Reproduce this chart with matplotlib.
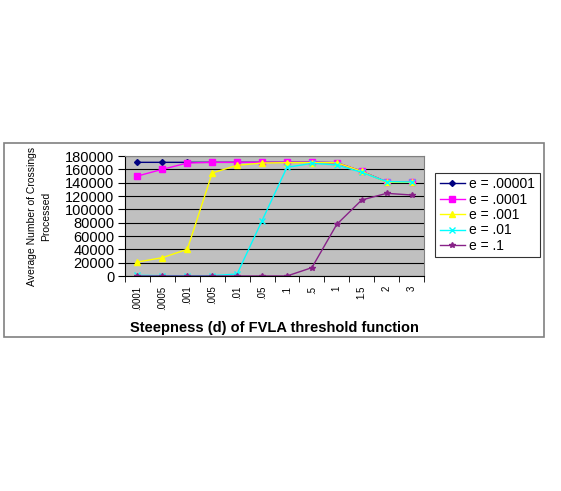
import matplotlib.pyplot as plt
from matplotlib.patches import Rectangle
import numpy as np

steepness = ['.0001', '.0005', '.001', '.005', '.01', '.05', '.1', '.5', '1', '1.5', '2', '3']

e_00001 = [170500, 170500, 170500, 170500, 170500, 170500, 170500, 170500, 170000, 157000, 141000, 141000]
e_0001 = [150000, 160000, 169500, 170500, 170500, 170500, 170500, 170500, 170000, 157000, 141000, 141000]
e_001 = [21000, 27500, 40000, 154500, 166000, 169500, 170000, 170000, 170000, 157000, 140500, 140500]
e_01 = [1000, 500, 500, 500, 3000, 83000, 163000, 169000, 166500, 155500, 141500, 141000]
e_1 = [0, 0, 0, 0, 0, 0, 0, 12500, 77500, 114000, 124000, 121500]

series = [
    ('e = .00001', e_00001, '#000080', 'D', 3),
    ('e = .0001', e_0001, '#ff00ff', 's', 4),
    ('e = .001', e_001, '#ffff00', '^', 4),
    ('e = .01', e_01, '#00ffff', 'x', 4),
    ('e = .1', e_1, '#882288', '*', 4),
]

plt.rcParams['font.family'] = ['Liberation Sans', 'DejaVu Sans']

fig = plt.figure(figsize=(5.61, 4.91), dpi=100)
fig.patch.set_facecolor('white')

# outer chart border
fig.patches.append(Rectangle((4 / 561, 1 - 337 / 491), 540 / 561, 194 / 491,
                             transform=fig.transFigure, fill=False,
                             edgecolor='#808080', lw=1.2))

ax = fig.add_axes([125 / 561, 1 - 276 / 491, 299 / 561, 120 / 491])
ax.set_facecolor('#c0c0c0')

x = np.arange(len(steepness))
for label, vals, color, marker, ms in series:
    ax.plot(x, vals, color=color, marker=marker, ms=ms, lw=1, label=label,
            markeredgewidth=1)

ax.set_xlim(-0.5, len(steepness) - 0.5)
ax.set_ylim(0, 180000)
ax.set_yticks(np.arange(0, 180001, 20000))
ax.yaxis.grid(True, color='black', lw=0.8)
ax.set_axisbelow(True)

ax.set_xticks(x)
ax.set_xticklabels(steepness, rotation=90, fontsize=7)
ax.set_xticks(np.arange(-0.5, len(steepness), 1), minor=True)
ax.tick_params(axis='x', which='major', length=0, pad=7)
ax.tick_params(axis='x', which='minor', length=4, direction='out')
ax.tick_params(axis='y', labelsize=10.5, length=5, pad=2.5)

for s in ['top', 'right']:
    ax.spines[s].set_color('#808080')
ax.spines['left'].set_color('black')
ax.spines['bottom'].set_color('black')

ax.set_ylabel('Average Number of Crossings\nProcessed', fontsize=7.5,
              labelpad=10, linespacing=1.6)
ax.set_xlabel('Steepness (d) of FVLA threshold function', fontsize=10.5,
              fontweight='bold', labelpad=8)

leg = ax.legend(loc='center', bbox_to_anchor=(487.5 / 561, 1 - 215 / 491),
                bbox_transform=fig.transFigure, fontsize=10, frameon=True,
                fancybox=False, edgecolor='black', handlelength=1.8,
                borderpad=0.3, labelspacing=0.1, handletextpad=0.35)
leg.get_frame().set_linewidth(0.8)

fig.savefig('out.png', dpi=100)
